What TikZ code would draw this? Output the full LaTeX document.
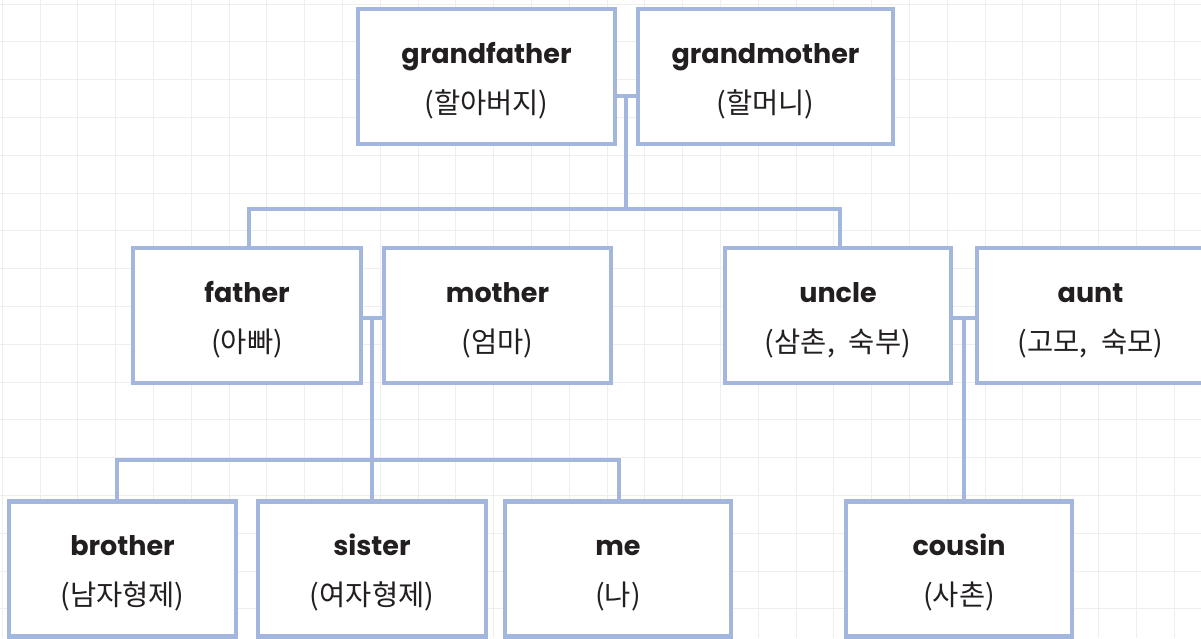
\documentclass[tikz,border=0pt]{standalone}
\usepackage{fontspec}
\usetikzlibrary{calc}
\newfontfamily\enfont{Poppins}
\newfontfamily\krfont{Noto Sans CJK KR}
\definecolor{lineblue}{HTML}{A3B6DE}
\definecolor{txtc}{HTML}{231F20}
\definecolor{gridc}{HTML}{EEEEEE}
\tikzset{
  pbox/.style={draw=lineblue, line width=4.6pt, fill=white, rectangle,
    minimum height=135pt, inner sep=0pt, outer sep=0pt},
  link/.style={draw=lineblue, line width=4.6pt},
  entext/.style={anchor=base, text=txtc, inner sep=0pt, font=\enfont\bfseries\fontsize{27pt}{30pt}\selectfont},
  krtext/.style={anchor=base, text=txtc, inner sep=0pt, font=\krfont\fontsize{28.5pt}{30pt}\selectfont},
  gridline/.style={draw=gridc, line width=1pt}
}
\newcommand\personbox[6]{%
  \node[pbox, minimum width=#4pt] (#1) at (#2,#3) {};
  \node[entext] (#1-en) at ($(#1.north)+(0,54)$) {#5};
  \node[krtext] (#1-kr) at ($(#1.north)+(0,104)$) {#6};
}
\newcommand\krsep{,\hspace{14pt}}
\begin{document}
\begin{tikzpicture}[x=1pt,y=-1pt]
\useasboundingbox (0,0) rectangle (1201,638);
\clip (0,0) rectangle (1201,638);
\fill[white] (0,0) rectangle (1201,638);
% grid
\foreach \i in {0,...,31} {
  \draw[gridline] ({2.3+37.8*\i},0) -- ({2.3+37.8*\i},638);
}
\foreach \j in {0,...,16} {
  \draw[gridline] (0,{4+37.8*\j}) -- (1201,{4+37.8*\j});
}
% connector points
\coordinate (gpm) at (626,96);
\coordinate (gpbar) at (626,209);
\coordinate (pm) at (372,318);
\coordinate (pbar) at (372,460);
\coordinate (um) at (964,318);
% boxes
\personbox{gf}{486.5}{76.5}{257}{grandfather}{(할아버지)}
\personbox{gm}{765.5}{76.5}{255}{grandmother}{(할머니)}
\personbox{father}{247}{315.5}{228}{father}{(아빠)}
\personbox{mother}{497.5}{315.5}{227}{mother}{(엄마)}
\personbox{uncle}{838}{315.5}{226}{uncle}{(삼촌\krsep 숙부)}
\personbox{aunt}{1090.5}{315.5}{227}{aunt}{(고모\krsep 숙모)}
\personbox{brother}{122.5}{569}{227}{brother}{(남자형제)}
\personbox{sister}{372}{569}{228}{sister}{(여자형제)}
\personbox{me}{618}{569}{226}{me}{(나)}
\personbox{cousin}{959}{569}{226}{cousin}{(사촌)}
% connectors
\draw[link] (gf.east |- gpm) -- (gm.west |- gpm);
\draw[link] (gpm) -- (gpbar);
\draw[link] ([xshift=2pt]father.north) |- (gpbar) -| ([xshift=2pt]uncle.north);
\draw[link] (father.east |- pm) -- (mother.west |- pm);
\draw[link] (pm) -- (sister.north);
\draw[link] ([xshift=-5.5pt]brother.north) |- (pbar) -| ([xshift=1pt]me.north);
\draw[link] (uncle.east |- um) -- (aunt.west |- um);
\draw[link] (um) -- ([xshift=5pt]cousin.north);
\end{tikzpicture}
\end{document}
